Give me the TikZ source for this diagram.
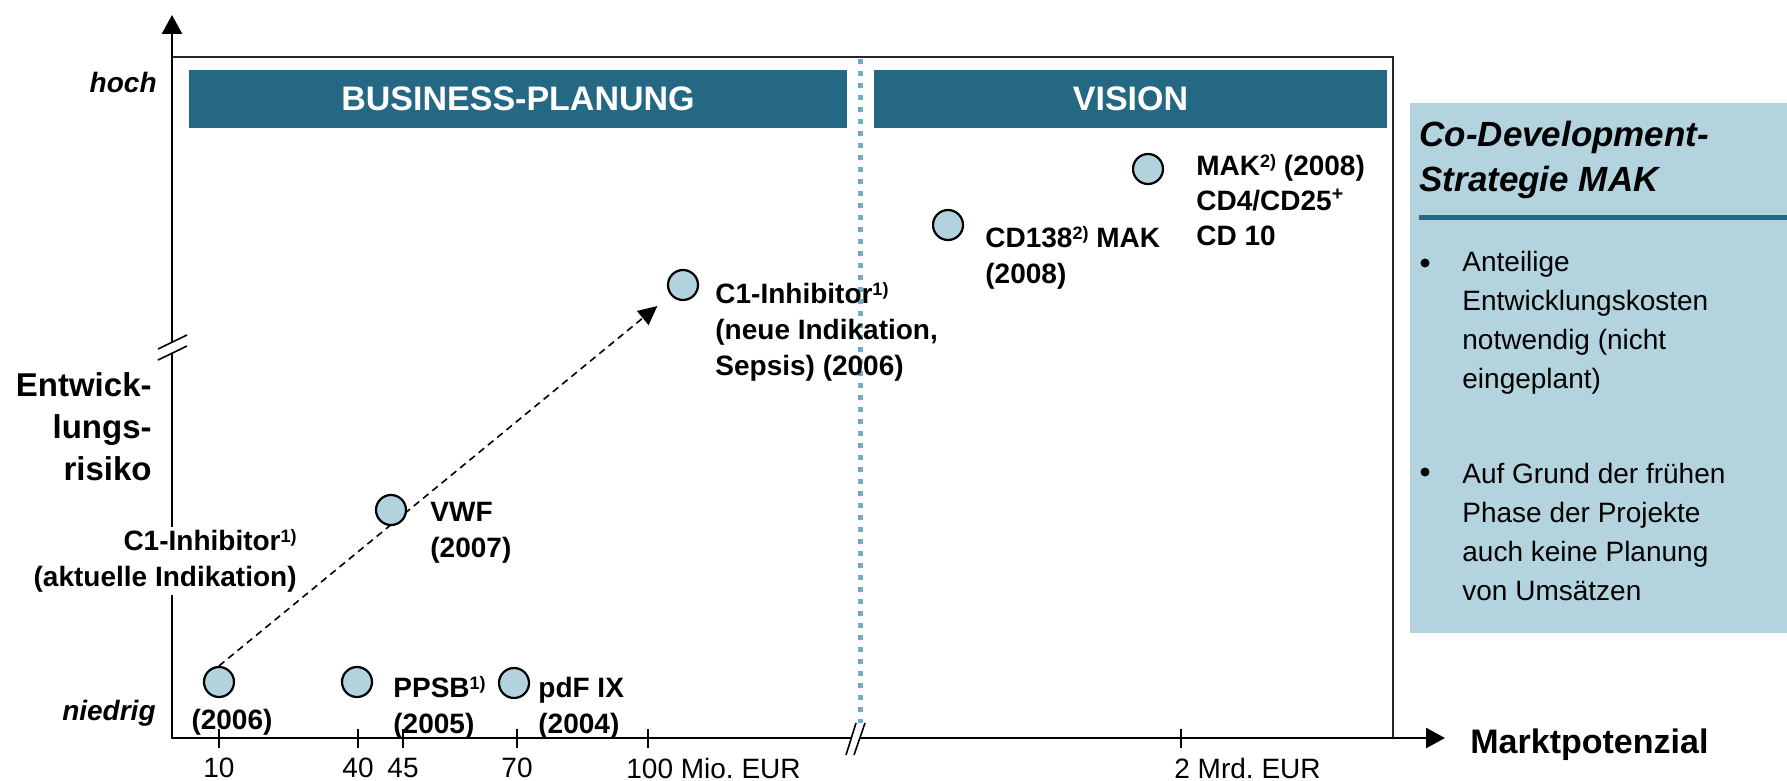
\documentclass[tikz,border=0pt]{standalone}
\usepackage{fontspec}
\setmainfont{Liberation Sans}
\usetikzlibrary{arrows.meta,positioning}

\definecolor{bannerblue}{RGB}{37,104,132}
\definecolor{dotblue}{RGB}{108,174,196}
\definecolor{circfill}{RGB}{178,211,221}
\definecolor{panelfill}{RGB}{179,212,222}

\newcommand{\fnmark}[1]{\raisebox{0.3em}{\fontsize{9}{9}\selectfont #1}}
\frenchspacing

\begin{document}
\begin{tikzpicture}[
  x=0.5pt,
  y=-0.5pt,
  node distance=6pt,
  frame/.style={
    draw=black!85,
    line width=0.9pt
  },
  axis/.style={
    line width=1.3pt,
    -{Triangle[length=9.5pt,width=10pt]}
  },
  tickmark/.style={
    line width=0.7pt
  },
  ticklbl/.style={
    font=\fontsize{14}{16}\selectfont,
    inner sep=0pt
  },
  banner/.style={
    rectangle,
    fill=bannerblue,
    text=white,
    minimum height=29pt,
    font=\fontsize{17}{20}\selectfont\bfseries,
    inner sep=0pt
  },
  divider/.style={
    draw=dotblue,
    line width=2.5pt,
    dash pattern=on 2.5pt off 3.5pt
  },
  product/.style={
    circle,
    draw=black,
    fill=circfill,
    line width=1.1pt,
    minimum size=15pt,
    inner sep=0pt
  },
  lbl/.style={
    font=\fontsize{14}{18}\selectfont\bfseries,
    align=left,
    inner sep=0pt
  },
  levellbl/.style={
    font=\fontsize{14}{17}\selectfont\bfseries\itshape,
    inner sep=0pt
  },
  trend/.style={
    line width=0.8pt,
    dash pattern=on 3.5pt off 2.5pt,
    -{Triangle[length=9.5pt,width=9pt]},
    shorten >=8.5pt
  },
  brk/.style={
    line width=0.8pt
  },
  panel/.style={
    rectangle,
    fill=panelfill,
    minimum width=190pt,
    minimum height=265pt,
    inner sep=0pt
  },
  dot/.style={
    circle,
    fill=black,
    minimum size=4.5pt,
    inner sep=0pt
  },
  bullettext/.style={
    font=\fontsize{14}{19.5}\selectfont,
    align=left,
    inner sep=0pt
  }
]

\useasboundingbox (0,0) rectangle (1787,781);

% Frame and phase banners
\draw[frame] (172,57) rectangle (1393,738);
\node[banner, minimum width=329pt] (business) at (518,99) {BUSINESS-PLANUNG};
\node[banner, minimum width=256.5pt] (vision) at (1130.5,99) {VISION};
\draw[divider] (860,59) -- (860,729);

% Axes
\coordinate (o) at (172,738);
\coordinate (xend) at (1445,738);
\coordinate (yend) at (172,15);
\draw[axis] (o) -- (xend);
\draw[axis] (o) -- (yend);

% Axis breaks
\fill[white] (158,349) -- (187,335) -- (187,346) -- (158,360) -- cycle;
\draw[brk] (158,349) -- (187,335);
\draw[brk] (158,360) -- (187,346);
\fill[white] (846,755) -- (856,723) -- (865,723) -- (854,755) -- cycle;
\draw[brk] (846,755) -- (856,723);
\draw[brk] (854,755) -- (865,723);

% Ticks and tick labels
\draw[tickmark] (219,729) -- (219,748);
\node[ticklbl] (t10) at (219,768) {10};
\draw[tickmark] (358,729) -- (358,748);
\node[ticklbl] (t40) at (358,768) {40};
\draw[tickmark] (403,729) -- (403,748);
\node[ticklbl] (t45) at (403,768) {45};
\draw[tickmark] (517,729) -- (517,748);
\node[ticklbl] (t70) at (517,768) {70};
\draw[tickmark] (648,729) -- (648,748);
\node[ticklbl, anchor=west] (t100) at (626,768) {100 Mio. EUR};
\draw[tickmark] (1181,729) -- (1181,748);
\node[ticklbl, anchor=west] (t2mrd) at (1174,768) {2 Mrd. EUR};

% Axis labels
\node[levellbl, anchor=east] (hoch) at (157,82) {hoch};
\node[levellbl, anchor=east] (niedrig) at (156,713) {niedrig};
\node[font=\fontsize{16.5}{21}\selectfont\bfseries, align=right, anchor=east, inner sep=0pt] (risk) at (152,427) {Entwick-\\lungs-\\risiko};
\node[font=\fontsize{17}{20}\selectfont\bfseries, anchor=west, inner sep=0pt] (market) at (1470,745) {Marktpotenzial};

% Trend from current to new indication
\node[product] (c1) at (219,682) {};
\node[product] (c1neu) at (683,285) {};
\draw[trend] (c1.north) -- (c1neu);

% Products
\node[product] (vwf) at (391,510) {};
\node[product] (ppsb) at (357,682) {};
\node[product] (pdf) at (514,683) {};
\node[product] (cd138) at (948,225) {};
\node[product] (mak) at (1148,169) {};

% Product labels
\node[lbl, below=5.5pt of c1, xshift=6.5pt] (c1year) {(2006)};
\node[lbl, anchor=east, align=right, fill=white, inner sep=1pt] (c1alt) at (299,561) {C1-Inhibitor\fnmark{1)}\\(aktuelle Indikation)};
\node[lbl, anchor=west] (vwflbl) at (430,533) {VWF\\(2007)};
\node[lbl, anchor=west] (ppsblbl) at (393,708) {PPSB\fnmark{1)}\\(2005)};
\node[lbl, anchor=west] (pdflbl) at (538,708) {pdF IX\\(2004)};
\node[lbl, anchor=west] (c1neulbl) at (715,332) {C1-Inhibitor\fnmark{1)}\\(neue Indikation,\\Sepsis) (2006)};
\node[lbl, anchor=west] (cd138lbl) at (985,258) {CD138\fnmark{2)} MAK\\(2008)};
\node[lbl, anchor=west, font=\fontsize{14}{17.5}\selectfont\bfseries] (maklbl) at (1196,200) {MAK\fnmark{2)} (2008)\\CD4/CD25\textsuperscript{+}\\CD 10};

% Side panel
\node[panel, anchor=north west] (panel) at (1410,103) {};
\node[font=\fontsize{17.5}{22.5}\selectfont\bfseries\itshape, align=left, anchor=west, inner sep=0pt] (ptitle) at (1419,160) {Co-Development-\\Strategie MAK};
\draw[draw=bannerblue, line width=2.5pt] (1419,217) -- (1787,217);
\node[dot] (b1) at (1425,263) {};
\node[bullettext, anchor=west] (p1) at (1462,323) {Anteilige\\Entwicklungskosten\\notwendig (nicht\\eingeplant)};
\node[dot] (b2) at (1425,472) {};
\node[bullettext, anchor=west] (p2) at (1462,532) {Auf Grund der frühen\\Phase der Projekte\\auch keine Planung\\von Umsätzen};

\end{tikzpicture}
\end{document}
